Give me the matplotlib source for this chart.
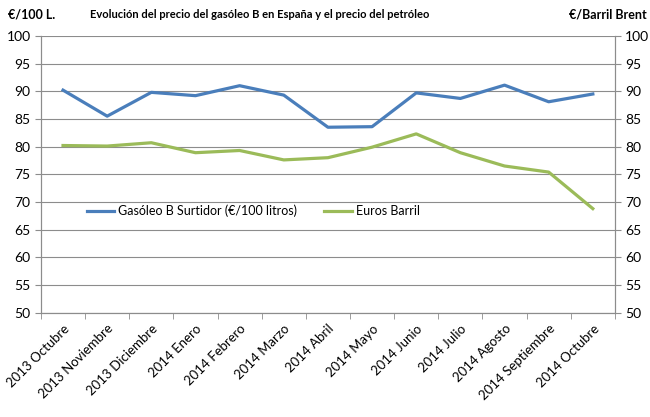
import numpy as np
import matplotlib
matplotlib.use("Agg")
import matplotlib.pyplot as plt

meses = ["2013 Octubre", "2013 Noviembre", "2013 Diciembre", "2014 Enero",
         "2014 Febrero", "2014 Marzo", "2014 Abril", "2014 Mayo", "2014 Junio",
         "2014 Julio", "2014 Agosto", "2014 Septiembre", "2014 Octubre"]
gasoleo = [90.2, 85.5, 89.8, 89.2, 91.0, 89.3, 83.5, 83.6, 89.7, 88.7, 91.1, 88.1, 89.5]
brent = [80.2, 80.1, 80.7, 78.9, 79.3, 77.6, 78.0, 79.9, 82.3, 78.9, 76.5, 75.4, 68.8]

plt.rcParams["font.family"] = ["Lato", "DejaVu Sans"]
fig = plt.figure(figsize=(6.5, 4.17), dpi=100)
ax = fig.add_axes([0.063, 0.25, 0.883, 0.664])
x = np.arange(len(meses))
ax.plot(x, gasoleo, color="#4a7ebb", lw=2.3, label="Gasóleo B Surtidor (€/100 litros)")
ax.plot(x, brent, color="#9bbb59", lw=2.3, label="Euros Barril")
ax.set_xlim(-0.5, len(meses) - 0.5)
ax.set_ylim(50, 100)
ax.set_yticks(range(50, 101, 5))
ax.grid(axis="y", color="#8c8c8c", lw=0.8)
ax.set_axisbelow(True)
ax.set_xticks(x)
ax.set_xticklabels(meses, rotation=45, ha="right", rotation_mode="anchor", fontsize=9.5)
ax.set_xticks(np.arange(-0.5, len(meses)), minor=True)
ax.tick_params(axis="x", which="major", length=0, pad=7)
ax.tick_params(axis="x", which="minor", length=4, color="#8c8c8c")
ax.tick_params(axis="y", length=4, color="#8c8c8c", labelsize=10)
for s in ax.spines.values():
    s.set_color("#8c8c8c")
ax.spines["top"].set_visible(False)

ax2 = ax.twinx()
ax2.set_ylim(50, 100)
ax2.set_yticks(range(50, 101, 5))
ax2.tick_params(axis="y", length=4, color="#8c8c8c", labelsize=10)
for s in ax2.spines.values():
    s.set_color("#8c8c8c")
ax2.spines["top"].set_visible(False)

ax.legend(loc="upper left", bbox_to_anchor=(0.06, 0.43), ncol=2, frameon=False,
          fontsize=9, handlelength=2.2, handletextpad=0.3, columnspacing=2.2)

fig.text(0.012, 0.965, "€/100 L.", fontsize=9, fontweight="bold", va="center")
fig.text(0.40, 0.965, "Evolución del precio del gasóleo B en España y el precio del petróleo",
         fontsize=8, fontweight="bold", ha="center", va="center")
fig.text(0.995, 0.965, "€/Barril Brent", fontsize=9, fontweight="bold", ha="right", va="center")

fig.savefig("out.png", dpi=100)
